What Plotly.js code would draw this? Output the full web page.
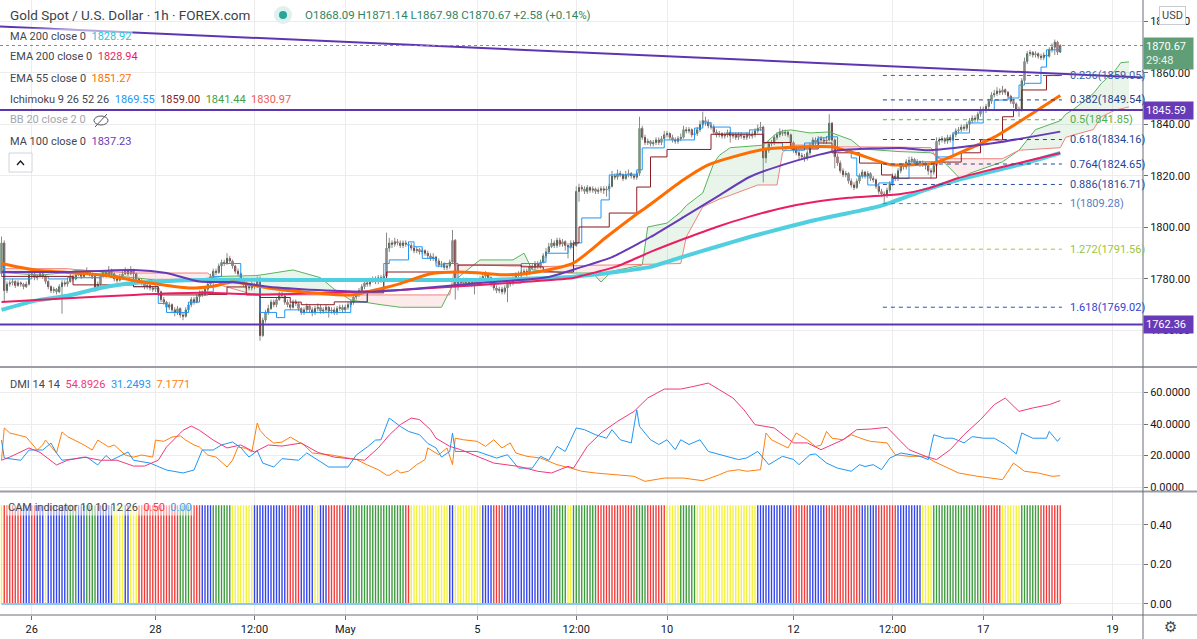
<!DOCTYPE html>
<html><head><meta charset="utf-8">
<script src="https://cdn.plot.ly/plotly-3.0.1.min.js"></script>
<style>html,body{margin:0;padding:0;background:#fff;overflow:hidden}#chart{width:1197px;height:639px}</style>
</head><body><div id="chart"></div>
<script>
// ===== DATA =====
// hourly bars, x = bar number; each bar opens at the previous bar's close
const firstOpen = 1782;
const close = [
1794,1775.5,1778,1778.5,1779,1777.5,1778.5,1778,1777,1778,
1781.5,1782,1780.5,1781,1782,1781,1779,1777,1775.5,1776,
1775,1777,1778.5,1778,1779,1781,1780,1781.5,1782.5,1781,
1782,1783,1782,1781,1776,1778,1781,1782.5,1781.5,1783.5,
1782,1780,1779.5,1781,1782,1783,1782,1783.5,1782,1780,
1779,1778.5,1777,1777.5,1776.5,1776,1776.5,1775,1772,1771,
1769,1770,1768,1767,1768.5,1766,1765.5,1768,1770,1772,
1771,1773,1774.5,1774,1776,1778,1781,1783,1782.5,1785,
1786.5,1786,1788,1787,1785,1783,1782,1780,1778,1777,
1776.5,1778,1777,1779.5,1758,1764,1767,1768.5,1771,1770,
1772,1774,1773.5,1771,1770,1769,1771,1770.5,1768.5,1767,
1768,1769.5,1768,1767,1768.5,1769,1767.5,1768,1769,1767.5,
1768,1767,1768.5,1769,1768,1769,1770,1771,1773,1774,
1775.5,1777,1778.5,1778,1779.5,1780,1779,1780.5,1779.5,1781,
1792,1794,1793.5,1794.5,1794,1793,1794,1793.5,1793,1792,
1791,1791.5,1790.5,1791,1790,1789,1788,1788.5,1787,1785.5,
1786,1784.5,1785,1786.5,1795,1777,1779,1778.5,1779.5,1778.5,
1779,1778,1779,1778.5,1780,1781,1782,1780.5,1778,1776.5,
1775.5,1776,1775,1776.5,1778,1778.5,1780,1781.5,1782,1782.5,
1783,1782,1785,1784.5,1786,1785,1786.5,1789,1790.5,1792.5,
1794,1793,1795,1793.5,1794.5,1793,1792.5,1794,1793,1814,
1815.5,1815,1814,1815.5,1814.5,1815,1814,1814.5,1815,1814.5,
1815,1816,1820,1819.5,1821,1820.5,1819,1820.5,1821,1820,
1819.5,1821,1838.5,1835,1833,1833.5,1832.5,1833,1834,1833,
1834.5,1836,1836.5,1835,1834,1833.5,1834.5,1835,1838,1837.5,
1838,1836,1836.5,1838,1840,1841.5,1841,1839.5,1839,1837,
1836,1836.5,1835.5,1836,1837,1835.5,1836,1835,1836,1835.5,
1835,1836,1835.5,1836,1837.5,1838.5,1839,1827,1830,1832.5,
1833,1835,1836,1837,1836.5,1837,1836,1833,1830,1829,
1828,1827.5,1827,1829,1832,1834,1833,1834.5,1834,1833.5,
1834,1840.5,1834,1827.5,1825,1822,1820.5,1821,1818,1816.5,
1815.5,1818,1820,1821.5,1820,1821,1819,1818.5,1816,1814,
1813,1812.5,1814.5,1817,1820,1819,1822,1824,1823.5,1825.5,
1826,1826.5,1825,1825.5,1824.5,1825,1824,1822,1821.5,1824,
1833.5,1834,1834.5,1833.5,1835,1834,1836,1837.5,1838,1839,
1838.5,1840,1841.5,1842.5,1842,1844,1846,1845.5,1847,1849,
1851.5,1852,1853,1852.5,1853.5,1852.5,1851,1849,1848,1846,
1845.5,1857,1864.5,1867.5,1868,1867,1867.5,1866.5,1866,1867,
1866.5,1869,1870,1872,1868.09,1870.67];
const high = [
1796.5,1795,1779,1779.5,1780,1779.5,1779.5,1779,1778.5,1779,
1782.5,1783,1782.5,1782,1783,1782.5,1781.5,1779.5,1777.5,1777,
1776.5,1778,1779.5,1779.5,1780,1782,1781.5,1782.5,1783.5,1783,
1783,1784.5,1783.5,1782.5,1781.5,1779,1782,1783.5,1783,1785,
1784,1782.5,1781,1782,1783,1784.5,1784,1785,1784,1782.5,
1780.5,1780,1779,1778.5,1778,1777,1777.5,1777,1775.5,1773,
1771.5,1771,1770.5,1769,1769.5,1769,1767,1769,1771,1773,
1773,1774,1775.5,1775.5,1777,1779,1782,1784,1784,1786,
1787.5,1787.5,1790,1789,1787.5,1785.5,1784,1782.5,1780.5,1779,
1778,1779,1778.5,1781,1781,1765,1768,1770,1772,1772,
1773,1775,1775,1774,1772,1771,1772,1772,1771,1769,
1769,1770.5,1770,1769,1769.5,1770.5,1770,1769,1770,1769.5,
1769,1769,1769.5,1770,1770,1770,1771,1772,1774,1775,
1776.5,1778,1779.5,1779.5,1780.5,1781,1781,1781.5,1781.5,1782,
1798,1796,1795,1796,1795.5,1795,1795,1795,1794.5,1794,
1793,1792.5,1792,1792,1791.5,1791,1790,1790,1789,1788,
1787,1786.5,1786,1787.5,1799,1795.5,1780,1780,1780.5,1780.5,
1780,1780,1780,1780,1781,1782,1783,1782.5,1781,1779,
1777.5,1777,1777,1777.5,1779,1779.5,1781,1782.5,1783,1783.5,
1784,1784,1786,1786,1787,1787,1787.5,1790,1792,1794,
1795.5,1795,1796,1796,1795.5,1795,1794,1795,1795,1816,
1817,1816.5,1816,1816.5,1816,1816,1815.5,1815.5,1816,1816,
1816,1817,1822,1821,1822.5,1822,1821,1822,1822.5,1821.5,
1821,1822,1843,1839.5,1836,1834.5,1834,1834,1835,1835,
1835.5,1837.5,1837.5,1837,1836,1835,1835.5,1836.5,1839.5,1839,
1839,1838.5,1837.5,1839,1841.5,1845,1843,1842,1841,1840,
1838,1837.5,1837,1837,1838,1837.5,1837,1837,1837,1837,
1836.5,1837,1837,1837.5,1838.5,1840,1841,1839.5,1831,1833.5,
1834,1836,1837,1838.5,1838,1838,1837.5,1836.5,1833.5,1831,
1830,1829,1828.5,1830,1833,1835,1835,1835.5,1835.5,1835,
1835.5,1844,1841,1834.5,1828.5,1826,1823,1822,1821.5,1819,
1817.5,1819,1821,1822.5,1822,1822,1821.5,1820,1819,1817,
1815,1814,1815.5,1818,1821,1821,1823,1825,1825,1826.5,
1827.5,1827.5,1827,1826.5,1826,1826,1825.5,1824.5,1823,1825,
1835,1835,1835.5,1835,1836,1836,1837,1838.5,1839,1840,
1840,1841,1842.5,1843.5,1843.5,1845,1847,1847,1848,1850,
1852.5,1853.5,1854.5,1854,1855,1854,1853,1851.5,1850,1848.5,
1847,1858,1866,1868.5,1869,1868.5,1868.5,1868,1867.5,1868,
1868,1870,1871.5,1873,1872.5,1871.14];
const low = [
1781,1771,1774.5,1777,1777.5,1776.5,1777,1777,1776,1776.5,
1777.5,1780.5,1779.5,1779.5,1780.5,1780,1778,1776,1774.5,1774.5,
1774,1774.5,1766.5,1777,1777,1778.5,1779,1779.5,1781,1780,
1780.5,1781.5,1781,1780,1775,1775.5,1777.5,1780.5,1780.5,1781,
1781,1779,1778.5,1779,1780.5,1781.5,1781,1781.5,1781,1779,
1778,1777.5,1776,1776,1775.5,1775,1775,1774,1771,1770,
1768,1768,1767,1765.5,1766,1765,1764,1765,1767,1769,
1770,1770.5,1772.5,1773,1773.5,1775,1777.5,1780,1781.5,1782,
1784.5,1785,1785.5,1786,1784,1782,1781,1779,1777,1776,
1775.5,1775.5,1776,1776.5,1756,1757.5,1763,1766,1768,1769,
1769,1771.5,1772.5,1770,1769,1768,1768.5,1769.5,1767.5,1766,
1766,1767,1767,1765.5,1766,1767.5,1766.5,1766.5,1767,1765,
1766.5,1766,1766,1767.5,1767,1767,1768,1769,1770,1772,
1773,1774.5,1776,1777,1777,1778.5,1778,1778,1778.5,1778.5,
1780,1790.5,1792,1792.5,1793,1792,1792,1792.5,1792,1791,
1790,1790,1789.5,1789.5,1789,1788,1787,1787,1786,1784.5,
1784.5,1783.5,1783.5,1784,1786,1772,1775.5,1777.5,1777.5,1777.5,
1777,1777,1774,1777.5,1777.5,1779,1780,1779.5,1777,1775.5,
1774.5,1774.5,1774,1774,1771,1777,1777.5,1779,1780.5,1781,
1781.5,1781,1781.5,1783.5,1783.5,1784,1784,1786,1788,1790,
1792,1792,1792,1792.5,1792.5,1791,1788,1791.5,1792,1792.5,
1810,1814,1813,1813,1813.5,1813.5,1813,1813,1813.5,1813,
1812,1814,1815.5,1818.5,1818.5,1819.5,1818,1818.5,1819.5,1819,
1818.5,1818.5,1820,1834,1832,1832,1831.5,1831.5,1832,1832,
1832,1833.5,1835,1834,1833,1832.5,1832.5,1833.5,1834.5,1836.5,
1836.5,1835,1835,1835.5,1837,1839,1839.5,1838.5,1838,1836,
1835,1835,1834.5,1834.5,1835,1833,1834.5,1834,1834,1834.5,
1834,1834,1834.5,1834.5,1835,1836.5,1837.5,1817.5,1825,1829,
1831.5,1832,1834,1835,1835.5,1835.5,1835,1832,1829,1828,
1826.5,1826.5,1825.5,1826,1828,1831,1832,1832,1833,1832.5,
1832.5,1833.5,1833,1823,1824,1821,1819.5,1819.5,1817,1815.5,
1814.5,1815,1817,1819,1819,1819,1818,1817.5,1815,1813,
1812,1809.5,1811.5,1813.5,1816,1818,1818,1821,1822.5,1822.5,
1824.5,1825,1824,1824,1823.5,1823.5,1822.5,1820.5,1819,1820.5,
1823.5,1832,1833,1832.5,1832.5,1833,1833.5,1835,1836.5,1837,
1837.5,1837.5,1839,1840.5,1841,1841,1843,1844.5,1844.5,1846,
1848,1850.5,1851,1851.5,1851.5,1851.5,1850,1848,1846.5,1845,
1843,1845,1856,1863.5,1866.5,1866,1866,1865.5,1865,1865,
1865.5,1866,1868,1867,1867,1867.98];

// moving averages (bar, value)
const ma200X = [0,12,24,36,48,72,108,145,174,196,208,224,236,248,260,272,284,296,308,320,336,348,360,372,385];
const ma200  = [1768,1771.5,1773.5,1776.5,1778.4,1779.6,1779.6,1779.6,1779.6,1780.3,1780.9,1782.8,1784.7,1788.7,1792.5,1796.3,1799.7,1802.9,1805.6,1808.5,1814.6,1818.5,1821.7,1824.9,1828.92];
const ema200X = [0,24,48,72,96,120,145,174,192,208,212,224,236,248,260,272,284,296,308,327,337,348,360,373,385];
const ema200  = [1771.1,1772.5,1773.8,1774.6,1774,1774.6,1775.7,1777.7,1779,1780.4,1781.5,1785,1790.5,1795.5,1800.2,1804.2,1807.6,1810,1811.5,1813,1815.2,1819.2,1822.5,1825.8,1828.94];
const ema55X = [0,12,36,54,68,77,84,97,109,127,139,145,156,166,174,184,195,208,220,232,236,248,257,266,278,290,302,309,321,324,339,349,361,370,385];
const ema55  = [1786,1783.5,1781.6,1778.4,1776.5,1777.2,1778.8,1776.5,1775,1773.8,1776.5,1778.2,1782,1782.7,1782.3,1781.6,1782.7,1786.2,1796.3,1806,1809,1818.5,1824.3,1827.4,1830.5,1831.3,1831.3,1829.3,1825,1824.3,1825,1829.3,1835.1,1841,1851.27];
const ma100X = [0,24,48,60,72,84,97,115,133,145,174,199,210,222,232,236,248,260,272,284,297,305,327,337,361,385];
const ma100  = [1782.7,1782.7,1783.5,1782.3,1779,1778.8,1777,1775.7,1775,1775.7,1778.4,1780.8,1784.3,1788.5,1794,1796.3,1804,1811.8,1819.6,1824.3,1828.2,1830,1830.9,1830,1832.8,1837.23];

// Ichimoku 9 26 52 26
const tenkanX = [0,1,11,17,24,36,40,48,57,60,68,72,77,80,87,92,94,100,103,109,127,133,139,141,148,150,153,158,161,166,174,178,184,189,196,198,206,208,211,218,221,231,233,241,252,255,258,265,272,277,284,292,297,300,304,309,311,315,319,324,330,340,346,352,357,361,366,370,372,378,380,385];
const tenkan  = [1785,1780,1781,1780,1780.5,1781,1783.5,1777,1770.5,1767,1771,1775,1781,1786,1780,1779.5,1767,1765,1768,1767,1771,1775,1786,1787.4,1794.4,1792.5,1788,1785,1786,1778,1779.6,1779,1778.4,1786,1786.5,1790,1792.4,1794,1803.7,1810.7,1820.4,1822.4,1830.9,1834,1838.6,1840.6,1839,1836.7,1837.9,1832.8,1830,1832.8,1834.8,1835.2,1830,1827,1820,1816.5,1817.3,1819,1825.5,1827.4,1836.7,1840.6,1845.6,1849.5,1850.3,1855.3,1856,1862.3,1869,1869.55];
const kijunX = [0,26,48,57,75,82,89,94,105,109,121,133,139,140,166,189,197,208,210,221,231,236,242,258,277,287,297,302,312,320,324,340,349,356,364,368,371,380,385];
const kijun  = [1781,1777.7,1777,1773.8,1774,1776.9,1773.8,1772.8,1771,1770,1771.1,1774.6,1779.6,1782.7,1785.4,1784.7,1782.7,1794,1800.2,1805.6,1815.7,1827.4,1830.3,1836.2,1833,1830.5,1832.8,1829,1825,1820.4,1819.2,1825.4,1829,1834,1843,1845.6,1853.4,1859,1859];
const spanX = [0,14,24,28,35,43,48,56,70,75,80,92,94,106,116,121,127,138,145,160,163,165,170,174,186,190,193,206,215,218,222,233,235,242,247,249,255,259,261,265,275,277,282,284,287,294,301,305,309,313,326,338,340,344,349,352,364,370,376,385,387,390,397,400,405,407,410];
const spanA = [1782.5,1781.5,1782.5,1783.5,1783,1781,1780.5,1779.6,1779.6,1780.3,1781,1781.3,1781.5,1783.5,1780.5,1776,1771.8,1770,1769,1769,1775,1779.6,1784,1787.4,1787.4,1790,1783.5,1782.3,1782.3,1778.8,1783,1785.4,1800.2,1801.7,1806,1808.5,1813.4,1825,1828,1831,1831.8,1832,1836.7,1837.5,1837.9,1836.7,1837.1,1835.5,1834,1830.5,1829.5,1829,1828,1824,1818.5,1821,1825.5,1830,1838,1841.44,1844,1846,1852,1856,1861,1864,1864.3];
const spanB = [1784,1784,1784,1783.5,1783,1782.5,1782.3,1782.3,1782.3,1782.3,1777.5,1773.8,1773.8,1773.8,1773.8,1773.8,1773.8,1773.8,1773.8,1773.8,1773.8,1785.4,1785.4,1785.4,1785,1785,1784.7,1785.2,1785.4,1785.4,1785.4,1785.6,1785.7,1785.8,1786,1796.3,1808,1810,1811,1812.5,1816.5,1816.5,1816.5,1829,1832,1832,1831.5,1831.3,1831.3,1831.3,1831.2,1831,1826.7,1826.7,1826.7,1826.7,1826.7,1830,1830.5,1830.97,1835,1836,1838,1843,1845.6,1846,1846.8];

// drawn tools
const trendX = [-1, 416];
const trendY = [1878.1, 1858.2];
const hLevels = [1845.59, 1762.36];
const lastPrice = 1870.67;
const fibRatio = ['0.236','0.382','0.5','0.618','0.764','0.886','1','1.272','1.618'];
const fibPrice = [1859.05,1849.54,1841.85,1834.16,1824.65,1816.71,1809.28,1791.56,1769.02];
const fibColor = ['#3d5fae','#1f3f8f','#4caf50','#244796','#1f44a3','#2a4a9c','#5b7cbf','#9bc53d','#3344cc'];
const fibFrom = 320.5, fibTo = 385.6;

// DMI 14 14
const adxX = [0,3,10,14,20,24,30,36,42,48,52,57,60,66,69,72,77,82,87,92,97,102,109,115,121,127,132,137,141,145,149,152,156,158,163,167,173,179,188,195,200,206,208,213,218,224,230,235,241,247,252,257,261,266,270,274,281,288,293,298,306,311,316,322,327,330,336,340,345,350,356,361,365,370,375,381,385];
const adx  = [17,19,24.8,22,14,17,19,17,17,13.3,13.3,17,25.4,36,38.7,36,29.8,24.8,26.7,22.2,26.7,26,27.9,22,19,17.8,17,24.8,33,39.6,43.8,42.8,36.4,31,25.8,23.7,19.5,15.2,13.1,10,8.9,13.1,12,25.8,34.3,41.7,48,56.5,62.2,62.2,64,66,61.8,56.5,49,39.6,37.5,28,28,23.7,30,36.4,36.8,37.9,29,23.7,19.5,17.4,23.7,33.2,42.8,52.3,56.5,48,50.2,52.3,54.8926];
const pdiX = [0,1,7,10,15,18,20,22,27,31,35,38,40,46,48,54,60,66,70,73,77,80,84,87,90,93,95,99,102,108,111,115,119,126,129,133,136,138,141,145,148,152,155,158,160,163,164,165,168,173,180,184,188,193,196,199,202,205,209,212,216,220,222,225,229,231,232,236,239,242,245,247,250,254,257,263,268,271,275,279,284,288,290,294,296,300,304,309,312,314,317,320,323,327,330,334,337,339,343,346,350,353,357,361,365,369,371,375,380,381,384,385];
const pdi  = [29.8,18.4,17,23.5,23.5,27.9,21.6,17,18,19,14,20,17,22.2,17,15.2,10.8,8.9,10.8,23.5,23.5,26.7,28.6,25,19,23,15.2,12.7,18,17,21.6,17,12.7,12.7,20.3,25.4,29.8,30,43.8,38.5,35.3,33.2,27.7,24.8,19,22.6,34.3,22.6,22.6,22.6,18.4,20.5,12,12,19.5,17,25.8,22.6,37.5,36.4,33.2,31,36.4,30,28,49,38.5,30,27,30,23.7,30,27,30,22.6,19.5,17.4,18.5,22.6,14.2,19.5,17.5,14.2,20.5,21,15.2,12,10,14.2,13,14.2,11,18.4,21.6,20.5,19.5,17.4,33.2,31,31,28,32,31,31,27,21,34.3,31,31,35.3,29,31.2493];
const mdiX = [0,1,3,9,13,15,16,20,22,24,30,33,35,39,41,45,48,51,55,56,59,62,65,67,70,72,75,78,82,84,86,89,91,93,94,96,99,102,105,107,110,113,117,120,126,129,133,137,140,141,144,145,148,151,154,155,159,162,164,165,168,173,176,179,182,185,187,191,196,202,207,211,216,223,230,234,241,248,255,261,264,268,271,276,278,280,286,289,293,296,298,300,302,306,309,314,316,322,325,330,336,339,348,355,359,364,368,372,377,382,385];
const mdi  = [17,37.5,34.3,31.7,23.5,26.7,29.8,21.6,35,32,26.7,23.5,29.8,25.4,26.7,20.3,19,20.3,19,29.8,29,31.7,32.5,29.8,26.7,25.4,20.3,19,12.7,17,25.4,24.5,22.2,40.6,36,32,27.9,28.5,31.7,29.8,26.7,21.6,20.8,20.3,18.4,17.5,14,11,7.6,7.4,10.8,8.9,10,14.2,17.4,24.8,20.5,24.8,14.2,31,30,29,25.8,30,24.8,28,21.6,19.5,18.4,14.2,12,10,8.9,7.8,6.8,3.6,5.7,5.7,4,7.8,10,11,10,11,34.3,30,24.8,34.3,30,25.8,26.5,35.3,31,30,33.2,30,29,28,20.5,19.5,19.5,16.3,8.9,6.8,5.7,4.7,15.2,10,8.9,6.8,7.1771];

// CAM indicator 10 10 12 26: colour state of each bar (run-length), level 0.50, signal 0.00
const camLevel = 0.5, camSignal = 0;
const camRunState = ['Y','R','B','R','B','Y','B','G','B','G','B','Y','B','Y','R','G','R','B','G','Y','B','R','B','Y','B','R','B','G','R','Y','B','Y','B','R','B','G','Y','G','R','G','R','Y','G','Y','B','R','B','R','B','G','B','R','B','Y','G','R','Y','G','R'];
const camRunLen   = [1,7,3,2,3,1,7,4,3,4,6,4,2,3,15,4,4,4,7,8,12,5,5,2,3,6,2,20,2,14,2,10,4,4,17,6,2,9,14,4,7,5,6,22,13,6,6,13,2,1,3,7,9,4,18,7,7,7,8];

// axis ticks
const timeTickAt  = [11,56,92,125,173,209,242,288,324,357,404];
const timeTickTxt = ['26','28','12:00','May','5','12:00','10','12','12:00','17','19'];
const priceTicks = [1760,1780,1800,1820,1840,1860,1880];
const dmiTicks = [0,20,40,60];
const camTicks = [0,0.2,0.4];

// ===== DRAWING =====
const FONT = 'Roboto, "Noto Sans", "DejaVu Sans", sans-serif';
const PW = 1143, PH = 615;
const PX = x => x / PW, PY = y => (PH - y) / PH;

const bars = close.map((_, i) => i);
const open = close.map((v, i) => i === 0 ? firstOpen : close[i - 1]);
const bodyHi = bars.map(i => Math.max(open[i], close[i]));
const bodyLo = bars.map(i => Math.min(open[i], close[i]));
const wx = [], wy = [];
bars.forEach(i => { wx.push(i, i, null); wy.push(high[i], low[i], null); });

function cloud(xs, a, b) {
  const pos = {x: [], y: []}, neg = {x: [], y: []};
  let top = [], bot = [], sign = 0;
  const flush = () => {
    if (top.length > 1 && sign !== 0) {
      const t = sign > 0 ? pos : neg;
      const pts = top.concat(bot.slice().reverse());
      pts.forEach(p => { t.x.push(p[0]); t.y.push(p[1]); });
      t.x.push(pts[0][0], null); t.y.push(pts[0][1], null);
    }
    top = []; bot = []; sign = 0;
  };
  for (let k = 0; k < xs.length; k++) {
    const d = a[k] - b[k];
    if (k > 0) {
      const dp = a[k - 1] - b[k - 1];
      if ((dp < 0 && d > 0) || (dp > 0 && d < 0)) {
        const t = dp / (dp - d);
        const xm = xs[k - 1] + t * (xs[k] - xs[k - 1]);
        const ym = a[k - 1] + t * (a[k] - a[k - 1]);
        top.push([xm, ym]); bot.push([xm, ym]); flush();
        top.push([xm, ym]); bot.push([xm, ym]);
      }
    }
    top.push([xs[k], a[k]]); bot.push([xs[k], b[k]]);
    if (d === 0) { flush(); top.push([xs[k], a[k]]); bot.push([xs[k], b[k]]); }
    else if (sign === 0) sign = d > 0 ? 1 : -1;
  }
  flush();
  return {pos, neg};
}
const cl = cloud(spanX, spanA, spanB);

const L = (x, y, color, width, extra) => Object.assign({type: 'scatter', mode: 'lines', x, y,
  line: Object.assign({color, width}, extra || {}), hoverinfo: 'skip', xaxis: 'x', yaxis: 'y'});

const traces = [];
traces.push({type:'scatter', mode:'lines', x: cl.pos.x, y: cl.pos.y, fill:'toself', fillcolor:'rgba(76,175,80,0.12)', line:{width:0}, hoverinfo:'skip', xaxis:'x', yaxis:'y'});
traces.push({type:'scatter', mode:'lines', x: cl.neg.x, y: cl.neg.y, fill:'toself', fillcolor:'rgba(239,83,80,0.12)', line:{width:0}, hoverinfo:'skip', xaxis:'x', yaxis:'y'});
traces.push(L(spanX, spanA, '#59b35d', 1));
traces.push(L(spanX, spanB, '#f0837f', 1));
traces.push(L(wx, wy, '#8a8a8a', 1));
traces.push({type:'candlestick', x: bars, open: open, high: bodyHi, low: bodyLo, close: close,
  increasing:{line:{color:'#1d4a2a', width:1}, fillcolor:'#3f8a55'},
  decreasing:{line:{color:'#5c1414', width:1}, fillcolor:'#c0392b'},
  whiskerwidth: 0, hoverinfo:'none', xaxis:'x', yaxis:'y'});
traces.push(L(tenkanX, tenkan, '#2196f3', 1, {shape:'hv'}));
traces.push(L(kijunX, kijun, '#8b1c24', 1, {shape:'hv'}));
traces.push(L(ma200X, ma200, '#4fcfe0', 4, {shape:'spline', smoothing:0.6}));
traces.push(L(ema200X, ema200, '#e91e63', 2, {shape:'spline', smoothing:0.6}));
traces.push(L(ema55X, ema55, '#ff6d00', 3, {shape:'spline', smoothing:0.6}));
traces.push(L(ma100X, ma100, '#673ab7', 2, {shape:'spline', smoothing:0.6}));
traces.push(L(trendX, trendY, '#5e35b1', 2));
fibPrice.forEach((p, k) => traces.push(L([fibFrom, fibTo], [p, p], fibColor[k], 1, {dash:'4px,4px'})));

// DMI
const D = (x, y, color) => ({type:'scatter', mode:'lines', x, y, line:{color, width:1}, hoverinfo:'skip', xaxis:'x', yaxis:'y2'});
traces.push(D(mdiX, mdi, '#ff7f0e'));
traces.push(D(pdiX, pdi, '#2196f3'));
traces.push(D(adxX, adx, '#f0397b'));

// CAM
const camPalette = {B:'#3344ee', R:'#f23c3c', G:'#3d9b3d', Y:'#f5f23a'};
const camCol = [];
camRunState.forEach((s, k) => { for (let j = 0; j < camRunLen[k]; j++) camCol.push(camPalette[s]); });
traces.push({type:'bar', x: bars, y: bars.map(() => camLevel), marker:{color: camCol, line:{width:0}}, width: 0.5, hoverinfo:'skip', xaxis:'x', yaxis:'y3'});
traces.push({type:'scatter', mode:'lines', x:[bars[0], bars[bars.length-1]], y:[camSignal, camSignal], line:{color:'#8cc8f0', width:2}, hoverinfo:'skip', xaxis:'x', yaxis:'y3'});

// ===== annotations & shapes =====
const ann = [], shp = [];
const sp = (t, c) => `<span style="color:${c}">${t}</span>`;
const NB = '\u00a0\u00a0';
function txt(x, y, text, size, extra) {
  ann.push(Object.assign({xref:'paper', yref:'paper', x: PX(x), y: PY(y), xanchor:'left', yanchor:'middle',
    text, showarrow:false, font:{family:FONT, size: size || 11, color:'#434651'}}, extra || {}));
}
txt(8, 15, 'Gold Spot / U.S. Dollar · 1h · FOREX.com', 13.5, {font:{family:FONT, size:13.5, color:'#3c3f4a'}});
shp.push({type:'circle', xref:'paper', yref:'paper', x0:PX(274), x1:PX(292), y0:PY(24), y1:PY(6), fillcolor:'#dff1ee', line:{width:0}});
shp.push({type:'circle', xref:'paper', yref:'paper', x0:PX(279), x1:PX(287), y0:PY(19), y1:PY(11), fillcolor:'#26a69a', line:{width:0}});
txt(303, 15, 'O1868.09  H1871.14  L1867.98  C1870.67  +2.58 (+0.14%)'.replace(/  /g, '\u00a0'), 11.5, {font:{family:FONT, size:11.5, color:'#2f855f'}});

const lg = 11;
txt(8, 36, sp('MA 200 close 0', '#434651') + NB + sp('1828.92', '#26c6da'), lg, {bgcolor:'rgba(255,255,255,0.55)'});
txt(8, 57, sp('EMA 200 close 0', '#434651') + NB + sp('1828.94', '#e91e63'), lg);
txt(8, 78, sp('EMA 55 close 0', '#434651') + NB + sp('1851.27', '#ff6d00'), lg);
txt(8, 99, sp('Ichimoku 9 26 52 26', '#434651') + NB + sp('1869.55', '#2196f3') + NB + sp('1859.00', '#8b1c24') + NB + sp('1841.44', '#43a047') + NB + sp('1830.97', '#f05a55'), lg);
txt(8, 120, sp('BB 20 close 2 0', '#a3a6af'), lg);
txt(8, 141, sp('MA 100 close 0', '#434651') + NB + sp('1837.23', '#673ab7'), lg);
// hidden-eye icon
shp.push({type:'circle', xref:'paper', yref:'paper', x0:PX(94), x1:PX(108), y0:PY(125), y1:PY(116), line:{color:'#55585f', width:1}});
shp.push({type:'line', xref:'paper', yref:'paper', x0:PX(95), x1:PX(107), y0:PY(127), y1:PY(114), line:{color:'#55585f', width:1}});
// collapse button
shp.push({type:'rect', xref:'paper', yref:'paper', x0:PX(9), x1:PX(32), y0:PY(172), y1:PY(153), line:{color:'#d1d4dc', width:1}, fillcolor:'#ffffff'});
shp.push({type:'path', xref:'paper', yref:'paper', path:`M ${PX(17)} ${PY(165)} L ${PX(20.5)} ${PY(161)} L ${PX(24)} ${PY(165)}`, line:{color:'#131722', width:1.3}});

txt(8, 384, sp('DMI 14 14', '#434651') + NB + sp('54.8926', '#f0397b') + NB + sp('31.2493', '#2196f3') + NB + sp('7.1771', '#ff7f0e'), lg);
txt(6, 507, sp('CAM indicator 10 10 12 26', '#434651') + NB + sp('0.50', '#ff3b3b') + NB + sp('0.00', '#42a5f5'), lg, {bgcolor:'rgba(255,255,255,0.55)'});

// fib labels
fibPrice.forEach((p, k) => ann.push({xref:'x', yref:'y', x: 387.8, y: p, xanchor:'left', yanchor:'middle', showarrow:false,
  text: `${fibRatio[k]}(${p.toFixed(2)})`, font:{family:FONT, size:11, color: fibColor[k]}}));

// horizontal levels
hLevels.forEach(v => {
  shp.push({type:'line', xref:'paper', yref:'y', x0:0, x1:1, y0:v, y1:v, line:{color:'#5e35b1', width:2}});
  ann.push({xref:'paper', yref:'y', x:1, y:v, xanchor:'left', yanchor:'middle', showarrow:false, text: v.toFixed(2),
    bgcolor:'#673ab7', borderpad:2, width:45, align:'left', font:{family:FONT, size:11, color:'#ffffff'}});
});
// last price
shp.push({type:'line', xref:'paper', yref:'y', x0:0, x1:1, y0:lastPrice, y1:lastPrice, line:{color:'#5aa57c', width:1, dash:'dot'}});
ann.push({xref:'paper', yref:'y', x:1, y:lastPrice, xanchor:'left', yanchor:'top', yshift:9, showarrow:false,
  text: lastPrice.toFixed(2) + '<br><span style="color:#e8f3ec">29:48</span>', bgcolor:'#5f9e76', borderpad:2, width:45, align:'left',
  font:{family:FONT, size:11, color:'#ffffff'}});
// USD box
ann.push({xref:'paper', yref:'paper', x:PX(1172), y:PY(16), xanchor:'center', yanchor:'middle', showarrow:false, text:'USD',
  bgcolor:'#ffffff', bordercolor:'#c9ccd4', borderwidth:1, borderpad:2, font:{family:FONT, size:11, color:'#434651'}});
// gear
ann.push({xref:'paper', yref:'paper', x:PX(1170), y:PY(627), xanchor:'center', yanchor:'middle', showarrow:false, text:'⚙',
  font:{family:'"DejaVu Sans", sans-serif', size:15, color:'#434651'}});

// pane separators & frame
const FULL = 1197 / PW;
shp.push({type:'line', xref:'paper', yref:'paper', x0:0, x1:FULL, y0:PY(367), y1:PY(367), line:{color:'#9a9da6', width:2}});
shp.push({type:'line', xref:'paper', yref:'paper', x0:0, x1:FULL, y0:PY(491.5), y1:PY(491.5), line:{color:'#9a9da6', width:2}});
shp.push({type:'line', xref:'paper', yref:'paper', x0:0, x1:FULL, y0:0, y1:0, line:{color:'#6b6e78', width:1}});
shp.push({type:'line', xref:'paper', yref:'paper', x0:1, x1:1, y0:PY(639), y1:1, line:{color:'#6b6e78', width:1}});

const gridc = '#ececec';
const yCommon = {side:'right', showgrid:true, gridcolor:gridc, zeroline:false, ticks:'outside', ticklen:4, tickcolor:'#6b6e78',
  showline:false, fixedrange:true, tickfont:{family:FONT, size:11, color:'#131722'}, anchor:'x'};
const layout = {
  width:1197, height:639, margin:{l:0, r:54, t:0, b:24},
  paper_bgcolor:'#ffffff', plot_bgcolor:'#ffffff', showlegend:false, boxgap:0.5, bargap:0.5,
  font:{family:FONT, size:11, color:'#131722'},
  xaxis:{range:[-0.55, 415.09], tickvals: timeTickAt, ticktext: timeTickTxt, showgrid:true, gridcolor:gridc, zeroline:false,
    anchor:'y3', ticks:'outside', ticklen:4, tickcolor:'#6b6e78', showline:false, rangeslider:{visible:false}, fixedrange:true,
    tickfont:{family:FONT, size:11, color:'#131722'}},
  yaxis: Object.assign({}, yCommon, {domain:[0.4049, 1], range:[1746.2, 1888.35], tickvals: priceTicks, tickformat:'.2f'}),
  yaxis2: Object.assign({}, yCommon, {domain:[0.2016, 0.4016], range:[-2.54, 75.56], tickvals: dmiTicks, tickformat:'.4f'}),
  yaxis3: Object.assign({}, yCommon, {domain:[0, 0.2], range:[-0.0558, 0.567], tickvals: camTicks, tickformat:'.2f'}),
  annotations: ann, shapes: shp
};
Plotly.newPlot('chart', traces, layout, {staticPlot:true, displayModeBar:false});
</script></body></html>
